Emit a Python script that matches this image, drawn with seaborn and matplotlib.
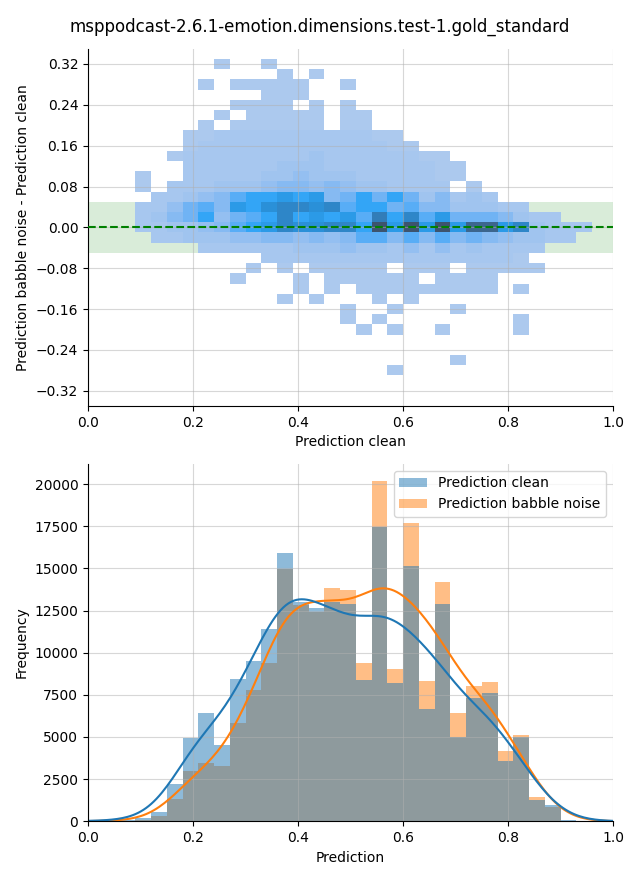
import numpy as np
import pandas as pd
import matplotlib
matplotlib.use("Agg")
import matplotlib.pyplot as plt
import seaborn as sns
from matplotlib.ticker import MultipleLocator

title = "msppodcast-2.6.1-emotion.dimensions.test-1.gold_standard"
series_names = ["Prediction clean", "Prediction babble noise"]

# ---- bottom histogram: counts per 0.03-wide bin, starting at 0.0 ----
bin_width = 0.03
clean_counts = [40, 40, 80, 180, 560, 2214, 4962, 6425, 4527, 8442, 9509, 11407,
                15915, 13009, 12673, 12989, 12870, 8382, 17457, 8224, 15144, 6662,
                12890, 5022, 7315, 7611, 3578, 5002, 1265, 969, 60, 30, 30]
babble_counts = [20, 20, 40, 100, 316, 1325, 2985, 3440, 3302, 5832, 7789, 9410,
                 14946, 12811, 12416, 13819, 13720, 9391, 20185, 9035, 17694, 8323,
                 14195, 6425, 8027, 8264, 4171, 5120, 1423, 830, 40, 20, 10]

# ---- top 2D histogram: rows are difference bins (0.32 at top, step 0.02),
# columns are clean-prediction bins (0.03 wide from 0.0); one char per cell ----
diff_top = 0.32
diff_step = 0.02
diff_grid = [
    "........1..1.....................",
    "............1.1..................",
    ".......1.11111..1................",
    "...........111...................",
    ".........1111.1.1................",
    "........1.11111.11...............",
    ".......1.111111.11...............",
    "......11222222222211.............",
    "......122222222222211............",
    ".....122222222322222211..........",
    "......222222333222222211.........",
    "...1..222223343332222211.........",
    "...1.222333455454332222.1........",
    "....2234578898956868635232.......",
    "...22467598ABBAB788675533322.....",
    "...235684678B89897C8B796665322...",
    "...223345789BAABB8E9E9E9DD9B3222.",
    "....223334455454577575756543322..",
    ".......2222223334332424232222....",
    "...........22222222222222221.....",
    "..........1.1.11111.111.11111....",
    ".........1...1.111111.1111.......",
    ".............1.1.111111111.1.....",
    "............1.1...1.1............",
    "................1..1...1.........",
    "................1.1........1.....",
    ".................1.1..1....1.....",
    ".................................",
    ".................................",
    ".......................1.........",
    "...................1.............",
]
level_counts = {"1": 18, "2": 120, "3": 300, "4": 540, "5": 840, "6": 1200,
                "7": 1560, "8": 1980, "9": 2520, "A": 3000, "B": 3480,
                "C": 3960, "D": 5100, "E": 6000}

# ---------------- build tables ----------------
n_x = len(clean_counts)
x_edges = [round(bin_width * k, 4) for k in range(n_x + 1)]
x_centers = [(a + b) / 2 for a, b in zip(x_edges[:-1], x_edges[1:])]

top_rows = []
for i, row in enumerate(diff_grid):
    yv = diff_top - diff_step * i
    for k, ch in enumerate(row[:n_x]):
        if ch in level_counts:
            top_rows.append((x_centers[k], yv, level_counts[ch]))
df_top = pd.DataFrame(top_rows, columns=["clean", "diff", "count"])
n_y = len(diff_grid)
y_edges = [round(diff_top + diff_step / 2 - diff_step * j, 4) for j in range(n_y + 1)][::-1]

df_bot = pd.concat([
    pd.DataFrame({"value": x_centers, "count": clean_counts, "series": series_names[0]}),
    pd.DataFrame({"value": x_centers, "count": babble_counts, "series": series_names[1]}),
], ignore_index=True)

# ---------------- figure ----------------
fig, (ax1, ax2) = plt.subplots(2, 1, figsize=(6.4, 8.8))
fig.subplots_adjust(left=0.1375, right=0.958, top=0.9447, bottom=0.0667, hspace=0.162)

ax1.axhspan(-0.05, 0.05, color="green", alpha=0.15, linewidth=0, zorder=0)
sns.histplot(data=df_top, x="clean", y="diff", weights="count",
             bins=[x_edges, y_edges], ax=ax1)
ax1.axhline(0, color="green", linestyle="--", linewidth=1.5, zorder=3)
ax1.set_xlim(0, 1)
ax1.set_ylim(-0.35, 0.35)
ax1.yaxis.set_major_locator(MultipleLocator(0.08))
ax1.set_xlabel("Prediction clean")
ax1.set_ylabel("Prediction babble noise - Prediction clean")
ax1.grid(True, alpha=0.5)

sns.histplot(data=df_bot, x="value", weights="count", hue="series",
             hue_order=series_names, bins=x_edges, kde=True, alpha=0.5,
             linewidth=0, kde_kws=dict(bw_method=0.26, cut=1, clip=(0, 1)),
             ax=ax2)
ax2.set_xlim(0, 1)
ax2.set_xlabel("Prediction")
ax2.set_ylabel("Frequency")
ax2.grid(True, alpha=0.5)
sns.move_legend(ax2, "upper right", title=None)

for ax in (ax1, ax2):
    sns.despine(ax=ax)

fig.suptitle(title, fontsize=12)
fig.savefig("out.png", dpi=100)
